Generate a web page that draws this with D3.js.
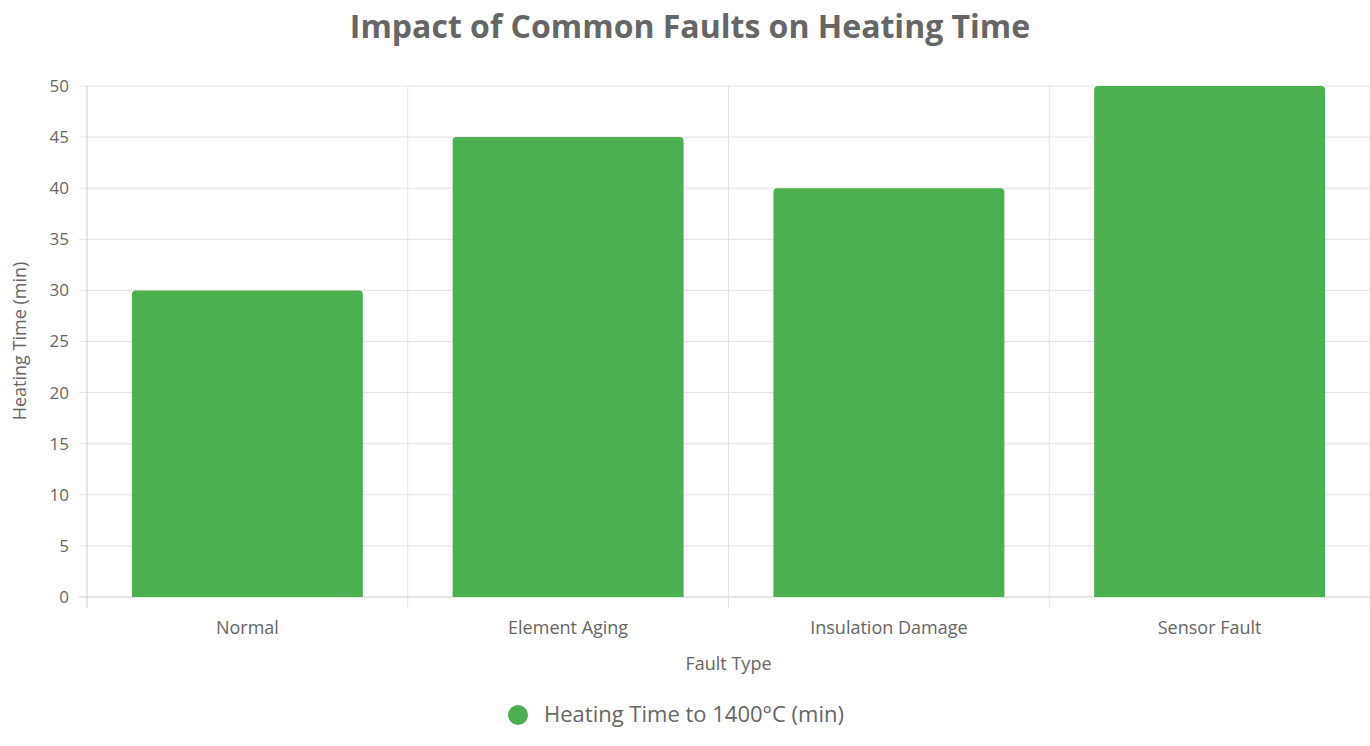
<!DOCTYPE html>
<html><head><meta charset="utf-8">
<script src="https://cdn.jsdelivr.net/npm/d3@7"></script>
<style>body{margin:0;background:#fff;font-family:"Open Sans","Helvetica Neue",Arial,sans-serif}</style>
</head><body><svg id="c" width="1370" height="746"></svg>
<script>
const categories=["Normal","Element Aging","Insulation Damage","Sensor Fault"];
const values=[30,45,40,50];
const yTicks=[0,5,10,15,20,25,30,35,40,45,50];
const seriesName="Heating Time to 1400°C (min)";
const svg=d3.select("#c");
const L=87,R=1370,T=86,B=597;
const x=d3.scaleBand().domain(categories).range([L,R]).paddingInner(0).paddingOuter(0);
const y=d3.scaleLinear().domain([0,50]).range([B,T]);
const txt="#666";
// horizontal grid
svg.append("g").selectAll("line").data(yTicks).join("line")
 .attr("x1",L-8).attr("x2",R).attr("y1",d=>y(d)).attr("y2",d=>y(d))
 .attr("stroke",d=>d===0?"#ccc":"#e2e2e2").attr("stroke-width",1);
// vertical grid at band boundaries
const bounds=categories.map(c=>x(c)).concat([R]);
svg.append("g").selectAll("line").data(bounds).join("line")
 .attr("x1",d=>d).attr("x2",d=>d).attr("y1",T).attr("y2",B+11)
 .attr("stroke",(d,i)=>i===0?"#ccc":"#e2e2e2");
svg.append("g").selectAll("text").data(yTicks).join("text")
 .attr("x",L-18).attr("y",d=>y(d)).attr("dy","0.35em").attr("text-anchor","end")
 .attr("fill",txt).attr("font-size",17).text(d=>d);
// bars
const bw=x.bandwidth()*0.72, r=4;
svg.append("g").selectAll("path").data(values).join("path")
 .attr("fill","#4caf50")
 .attr("d",(v,i)=>{const x0=x(categories[i])+(x.bandwidth()-bw)/2,x1=x0+bw,y0=y(v),yb=y(0);
   return `M${x0},${yb}V${y0+r}Q${x0},${y0} ${x0+r},${y0}H${x1-r}Q${x1},${y0} ${x1},${y0+r}V${yb}Z`;});
svg.append("g").selectAll("text").data(categories).join("text")
 .attr("x",d=>x(d)+x.bandwidth()/2).attr("y",634).attr("text-anchor","middle")
 .attr("fill",txt).attr("font-size",18).text(d=>d);
svg.append("text").attr("x",(L+R)/2).attr("y",670).attr("text-anchor","middle").attr("fill",txt).attr("font-size",18).text("Fault Type");
svg.append("text").attr("transform","translate(26,341) rotate(-90)").attr("text-anchor","middle").attr("fill",txt).attr("font-size",18).text("Heating Time (min)");
svg.append("text").attr("x",690).attr("y",38).attr("text-anchor","middle").attr("fill",txt).attr("font-size",32).attr("font-weight","bold").text("Impact of Common Faults on Heating Time");
svg.append("circle").attr("cx",518).attr("cy",715).attr("r",10).attr("fill","#4caf50");
svg.append("text").attr("x",544).attr("y",722).attr("fill",txt).attr("font-size",22).text(seriesName);
</script></body></html>
